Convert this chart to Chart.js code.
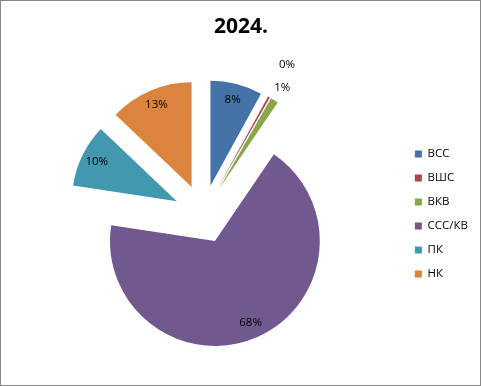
<!DOCTYPE html>
<html>
<head>
<meta charset="utf-8">
<script src="https://cdn.jsdelivr.net/npm/chart.js@4"></script>
<style>
    body { margin: 0; background: #fff; }
    #wrap { width: 481px; height: 386px; box-sizing: border-box; border: 1px solid #878787; }
</style>
</head>
<body>
<div id="wrap"><canvas id="chart" width="479" height="384"></canvas></div>
<script>
var labels = ['ВСС', 'ВШС', 'ВКВ', 'ССС/КВ', 'ПК', 'НК'];
var values = [8, 0.3, 1.2, 67.9, 9.7, 12.9];
var colors = ['#4572A7', '#AA4643', '#89A54E', '#71588F', '#4198AF', '#DB843D'];

// every slice pulled away from the centre
var explodeRatio = 0.28;

var explodePlugin = {
    id: 'explode',
    beforeDatasetDraw: function (chart, args) {
        var ctx = chart.ctx;
        args.meta.data.forEach(function (arc) {
            var a = (arc.startAngle + arc.endAngle) / 2;
            var d = arc.outerRadius * explodeRatio;
            ctx.save();
            ctx.translate(Math.cos(a) * d, Math.sin(a) * d);
            arc.draw(ctx);
            ctx.restore();
        });
        return false;
    },
    afterDatasetsDraw: function (chart) {
        var ctx = chart.ctx;
        var meta = chart.getDatasetMeta(0);
        var total = values.reduce(function (s, v) { return s + v; }, 0);
        ctx.save();
        ctx.font = '11.5px "Open Sans"';
        ctx.fillStyle = '#000';
        ctx.textAlign = 'center';
        ctx.textBaseline = 'middle';
        meta.data.forEach(function (arc, i) {
            var pct = values[i] / total * 100;
            var a = (arc.startAngle + arc.endAngle) / 2;
            var r = arc.outerRadius;
            // tiny slices get their label outside, the rest inside
            var k = pct < 0.5 ? 1.35 : (pct < 3 ? 1.14 : 0.85);
            var dist = r * explodeRatio + r * k;
            ctx.fillText(Math.round(pct) + '%', arc.x + Math.cos(a) * dist, arc.y + Math.sin(a) * dist);
        });
        ctx.restore();
    }
};

new Chart(document.getElementById('chart'), {
    type: 'pie',
    data: {
        labels: labels,
        datasets: [{
            data: values,
            backgroundColor: colors,
            borderWidth: 0
        }]
    },
    options: {
        responsive: false,
        animation: false,
        layout: {
            padding: { left: 3, right: 2, top: 0, bottom: 66 }
        },
        plugins: {
            title: {
                display: true,
                text: '2024.',
                color: '#000',
                font: { family: '"Open Sans"', size: 21, weight: 'bold' },
                padding: { top: 13, bottom: 70 }
            },
            legend: {
                position: 'right',
                title: {
                    display: true,
                    text: ' ',
                    font: { size: 10 },
                    padding: { top: 96, bottom: 0 }
                },
                labels: {
                    boxWidth: 7,
                    boxHeight: 7,
                    padding: 12.5,
                    color: '#000',
                    font: { family: '"Open Sans"', size: 11.5 }
                }
            },
            tooltip: { enabled: false }
        }
    },
    plugins: [explodePlugin]
});
</script>
</body>
</html>
